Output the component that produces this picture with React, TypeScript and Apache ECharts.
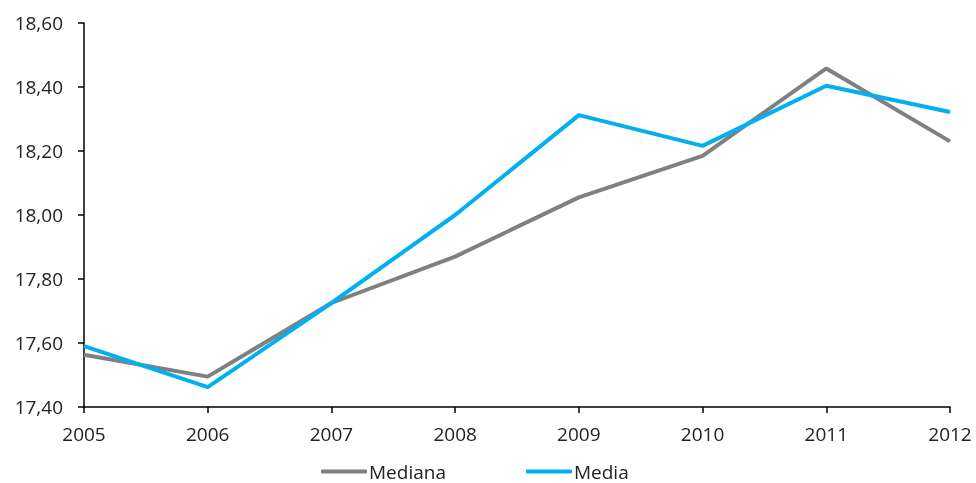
import React, { useEffect, useRef } from "react";
import * as echarts from "echarts";

const years = ["2005", "2006", "2007", "2008", "2009", "2010", "2011", "2012"];
const mediana = [17.563, 17.495, 17.725, 17.87, 18.055, 18.185, 18.458, 18.23];
const media = [17.59, 17.462, 17.725, 18.0, 18.312, 18.216, 18.404, 18.322];
const seriesNames = ["Mediana", "Media"];
const colors = ["#808080", "#00B0F0"];

export default function App() {
  const ref = useRef<HTMLDivElement>(null);
  useEffect(() => {
    if (!ref.current) return;
    const chart = echarts.init(ref.current, null, { renderer: "svg" });
    const font = "'Open Sans', sans-serif";
    chart.setOption({
      animation: false,
      grid: { left: 84, right: 26, top: 23, bottom: 76, containLabel: false },
      legend: {
        top: 457,
        left: 316,
        itemWidth: 46,
        itemHeight: 4,
        itemGap: 80,
        icon: "roundRect",
        textStyle: { color: "#222", fontSize: 19, fontFamily: font, padding: [0, 0, 0, -3] },
        data: seriesNames,
      },
      xAxis: {
        type: "category",
        data: years,
        boundaryGap: false,
        axisLine: { lineStyle: { color: "#000", width: 1.5 } },
        axisTick: { show: true, length: 6, lineStyle: { color: "#000", width: 1.5 } },
        axisLabel: { color: "#222", fontSize: 19, fontFamily: font, margin: 17 },
        splitLine: { show: false },
      },
      yAxis: {
        type: "value",
        min: 17.4,
        max: 18.6,
        interval: 0.2,
        axisLine: { show: true, lineStyle: { color: "#000", width: 1.5 } },
        axisTick: { show: true, length: 6, lineStyle: { color: "#000", width: 1.5 } },
        axisLabel: {
          color: "#222",
          fontSize: 19,
          fontFamily: font,
          margin: 21,
          formatter: (v: number) => v.toFixed(2).replace(".", ","),
        },
        splitLine: { show: false },
      },
      series: [
        {
          name: seriesNames[0],
          type: "line",
          data: mediana,
          symbol: "none",
          lineStyle: { color: colors[0], width: 4 },
          itemStyle: { color: colors[0] },
        },
        {
          name: seriesNames[1],
          type: "line",
          data: media,
          symbol: "none",
          lineStyle: { color: colors[1], width: 4 },
          itemStyle: { color: colors[1] },
        },
      ],
    });
    return () => chart.dispose();
  }, []);
  return (
    <div
      ref={ref}
      style={{ position: "fixed", left: 0, top: 0, width: 976, height: 483 }}
    />
  );
}
